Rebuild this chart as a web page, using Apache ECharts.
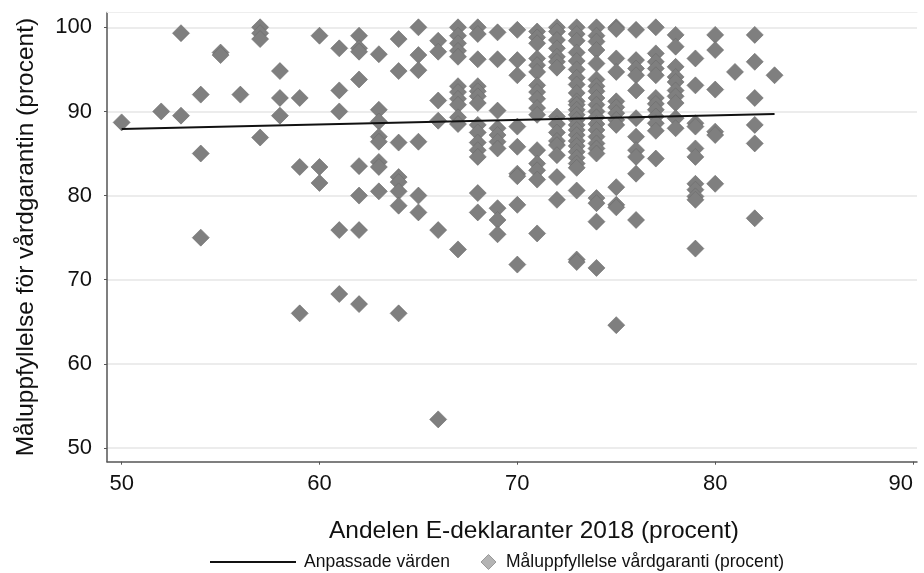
<!DOCTYPE html>
<html>
<head>
<meta charset="utf-8">
<script src="https://cdn.jsdelivr.net/npm/echarts@6/dist/echarts.min.js"></script>
<style>
  html, body { margin: 0; padding: 0; background: #fff; }
  #chart { width: 924px; height: 573px; }
</style>
</head>
<body>
<div id="chart"></div>
<script>
// Share of e-filers 2018 (%), one entry per municipality
const eDeclShare = [
  50,
  52,
  53, 53,
  54, 54, 54,
  55, 55,
  56,
  57, 57, 57, 57,
  58, 58, 58,
  59, 59, 59,
  60, 60, 60,
  61, 61, 61, 61, 61,
  62, 62, 62, 62, 62, 62, 62, 62,
  63, 63, 63, 63, 63, 63, 63, 63,
  64, 64, 64, 64, 64, 64, 64, 64,
  65, 65, 65, 65, 65, 65,
  66, 66, 66, 66, 66, 66,
  67, 67, 67, 67, 67, 67, 67, 67, 67, 67, 67, 67,
  68, 68, 68, 68, 68, 68, 68, 68, 68, 68, 68, 68, 68, 68,
  69, 69, 69, 69, 69, 69, 69, 69, 69, 69,
  70, 70, 70, 70, 70, 70, 70, 70, 70,
  71, 71, 71, 71, 71, 71, 71, 71, 71, 71, 71, 71, 71, 71, 71, 71,
  72, 72, 72, 72, 72, 72, 72, 72, 72, 72, 72, 72, 72, 72, 72,
  73, 73, 73, 73, 73, 73, 73, 73, 73, 73, 73, 73, 73, 73, 73, 73, 73, 73, 73, 73, 73, 73, 73, 73, 73, 73,
  74, 74, 74, 74, 74, 74, 74, 74, 74, 74, 74, 74, 74, 74, 74, 74, 74, 74, 74, 74, 74, 74,
  75, 75, 75, 75, 75, 75, 75, 75, 75, 75, 75, 75, 75,
  76, 76, 76, 76, 76, 76, 76, 76, 76, 76, 76,
  77, 77, 77, 77, 77, 77, 77, 77, 77, 77, 77, 77,
  78, 78, 78, 78, 78, 78, 78, 78, 78, 78,
  79, 79, 79, 79, 79, 79, 79, 79, 79, 79, 79,
  80, 80, 80, 80, 80, 80,
  81,
  82, 82, 82, 82, 82, 82,
  83
];

// Share of patients treated within the care guarantee (%)
const targetMet = [
  88.7,
  90.0,
  99.3, 89.5,
  92.0, 85.0, 75.0,
  97.0, 96.7,
  92.0,
  100.0, 99.3, 98.6, 86.9,
  94.8, 91.6, 89.5,
  91.6, 83.4, 66.0,
  99.0, 83.4, 81.5,
  97.5, 92.5, 90.0, 75.9, 68.3,
  99.0, 97.5, 97.1, 93.8, 83.5, 80.0, 75.9, 67.1,
  96.8, 90.2, 88.8, 87.0, 86.4, 84.0, 83.4, 80.5,
  98.6, 94.8, 86.3, 82.2, 81.6, 80.5, 78.8, 66.0,
  100.0, 96.7, 94.9, 86.4, 80.0, 78.0,
  98.4, 97.1, 91.3, 88.9, 75.9, 53.4,
  100.0, 99.0, 98.1, 97.2, 96.5, 93.0, 92.3, 91.5, 90.8, 89.3, 88.5, 73.6,
  100.0, 99.2, 96.2, 93.0, 92.4, 91.8, 91.0, 88.4, 87.5, 86.3, 85.4, 84.6, 80.3, 78.0,
  99.4, 96.2, 90.1, 88.0, 87.2, 86.4, 85.6, 78.5, 77.1, 75.4,
  99.7, 96.1, 94.3, 88.2, 85.8, 82.6, 82.3, 78.9, 71.8,
  99.5, 98.8, 98.1, 96.3, 95.5, 94.7, 93.1, 92.3, 91.5, 90.4, 89.6, 85.4, 83.8, 83.0, 81.9, 75.5,
  100.0, 99.5, 98.5, 97.5, 96.5, 95.9, 95.2, 89.4, 88.5, 87.5, 86.5, 86.0, 84.8, 82.2, 79.5,
  100.0, 99.2, 98.4, 97.0, 96.0, 95.0, 94.0, 93.2, 92.2, 91.2, 90.8, 90.2, 89.6, 89.0, 88.4, 87.8, 87.2, 86.5, 85.9, 85.2, 84.5, 83.8, 83.3, 80.6, 72.4, 72.1,
  100.0, 99.0, 98.3, 97.3, 95.7, 93.8, 93.0, 92.4, 91.6, 90.8, 90.0, 89.3, 88.5, 87.8, 87.0, 86.2, 85.6, 85.0, 79.7, 79.1, 76.9, 71.4,
  100.0, 99.8, 96.3, 94.7, 91.2, 90.5, 89.8, 89.0, 88.4, 81.0, 78.9, 78.6, 64.6,
  99.7, 96.1, 95.1, 94.3, 92.5, 89.2, 87.0, 85.4, 84.6, 82.6, 77.1,
  100.0, 96.9, 95.9, 95.1, 94.3, 91.6, 90.9, 90.2, 89.4, 88.6, 87.7, 84.4,
  99.1, 97.7, 95.3, 94.1, 93.5, 92.5, 91.8, 91.0, 89.2, 88.0,
  96.3, 93.1, 88.6, 88.2, 85.6, 84.6, 81.4, 80.7, 79.9, 79.5, 73.7,
  99.1, 97.3, 92.6, 87.6, 87.2, 81.4,
  94.7,
  99.1, 95.9, 91.6, 88.4, 86.2, 77.3,
  94.3
];

// Linear fit, evaluated at the ends of the observed range
const fitX = [50, 83];
const fitY = [87.9, 89.7];

// Tick labels
const xTicks = [50, 60, 70, 80, 90];
const yTicks = [50, 60, 70, 80, 90, 100];

const fitName = 'Anpassade värden';
const scatterName = 'Måluppfyllelse vårdgaranti (procent)';

const FONT = "'Liberation Sans', Arial, Helvetica, sans-serif";
const INK = '#111111';

const chart = echarts.init(document.getElementById('chart'), null, { renderer: 'canvas' });

chart.setOption({
  animation: false,
  backgroundColor: '#ffffff',
  textStyle: { fontFamily: FONT, color: INK },
  grid: { left: 107, right: 7, top: 12.5, bottom: 111.3, containLabel: false },
  xAxis: [
    {
      type: 'value',
      min: 49.26,
      max: 90.2,
      name: 'Andelen E-deklaranter 2018 (procent)',
      nameLocation: 'middle',
      nameGap: 57,
      nameTextStyle: { fontSize: 24.5, color: INK, fontFamily: FONT, padding: [0, 0, 0, 44] },
      axisLine: { show: true, onZero: false, lineStyle: { color: '#555555', width: 1.5 } },
      axisTick: { show: true, length: 3, customValues: xTicks, lineStyle: { color: '#555555', width: 1 } },
      axisLabel: {
        customValues: xTicks,
        fontSize: 22,
        color: INK,
        fontFamily: FONT,
        margin: 11,
        alignMaxLabel: 'right'
      },
      splitLine: { show: false }
    },
    {
      type: 'value',
      position: 'top',
      min: 49.26,
      max: 90.2,
      axisLine: { show: true, onZero: false, lineStyle: { color: '#eeeeee', width: 1 } },
      axisTick: { show: false },
      axisLabel: { show: false },
      splitLine: { show: false }
    }
  ],
  yAxis: {
    type: 'value',
    min: 48.37,
    max: 101.76,
    name: 'Måluppfyllelse för vårdgarantin (procent)',
    nameLocation: 'middle',
    nameGap: 68,
    nameTextStyle: { fontSize: 24.5, color: INK, fontFamily: FONT },
    axisLine: { show: true, onZero: false, lineStyle: { color: '#555555', width: 1.5 } },
    axisTick: { show: true, length: 3, customValues: yTicks, lineStyle: { color: '#555555', width: 1 } },
    axisLabel: {
      customValues: yTicks,
      fontSize: 22,
      color: INK,
      fontFamily: FONT,
      margin: 15
    },
    splitLine: { show: true, lineStyle: { color: '#e6e6e6', width: 1.5 } }
  },
  legend: [
    {
      data: [fitName],
      left: 210,
      top: 553,
      padding: 0,
      icon: 'rect',
      itemWidth: 86,
      itemHeight: 2,
      textStyle: { fontSize: 17.5, color: INK, fontFamily: FONT, padding: [0, 0, 0, 3] }
    },
    {
      data: [{
        name: scatterName,
        itemStyle: { color: '#b4b4b4', borderColor: '#9a9a9a', borderWidth: 1 }
      }],
      left: 480.5,
      top: 553,
      padding: 0,
      icon: 'diamond',
      itemWidth: 15,
      itemHeight: 15,
      textStyle: { fontSize: 17.5, color: INK, fontFamily: FONT, padding: [0, 0, 0, 5] }
    }
  ],
  series: [
    {
      name: fitName,
      type: 'line',
      data: fitX.map((x, i) => [x, fitY[i]]),
      symbol: 'none',
      color: '#111111',
      lineStyle: { color: '#111111', width: 2 },
      silent: true
    },
    {
      name: scatterName,
      type: 'scatter',
      data: eDeclShare.map((x, i) => [x, targetMet[i]]),
      symbol: 'diamond',
      symbolSize: 17,
      color: '#7f7f7f',
      itemStyle: { color: '#7f7f7f', borderColor: '#6c6c6c', borderWidth: 0.6, opacity: 1 },
      clip: false
    }
  ]
});
</script>
</body>
</html>
